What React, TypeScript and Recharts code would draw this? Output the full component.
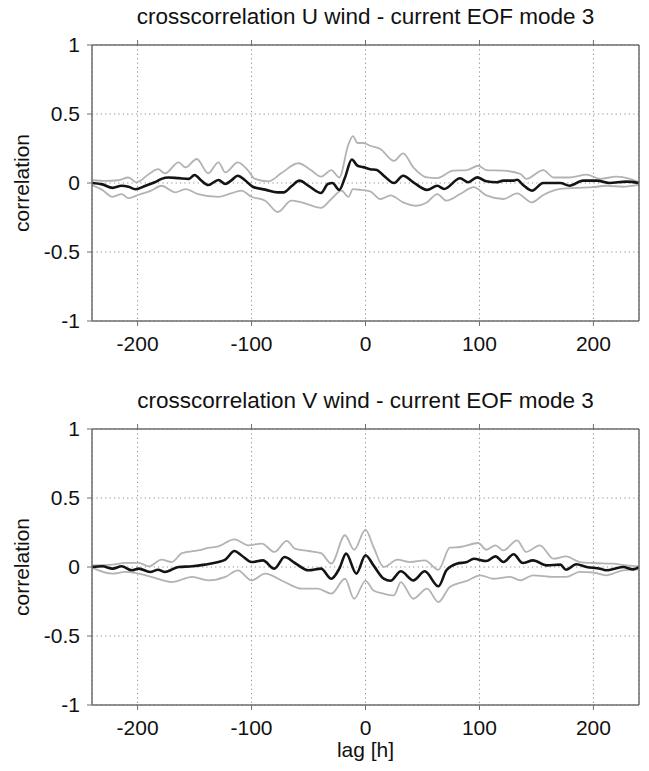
import React from "react";
import { LineChart, Line, XAxis, YAxis, CartesianGrid } from "recharts";

type Pt = [number, number];

const xTicks = [-200, -100, 0, 100, 200];
const yTicks = [-1, -0.5, 0, 0.5, 1];

const uTitle = "crosscorrelation U wind - current EOF mode 3";
const vTitle = "crosscorrelation V wind - current EOF mode 3";

const uCorr: Pt[] = [[-240,0],[-231,-0.01],[-222,-0.035],[-214,-0.02],[-208,-0.027],[-202,-0.045],[-193,-0.02],[-185,0.005],[-179,0.03],[-173,0.04],[-164,0.035],[-155,0.03],[-150,0.058],[-144,0.017],[-138,-0.015],[-129,0.022],[-123,-0.007],[-118,0.017],[-112,0.053],[-106,0.022],[-99,-0.027],[-88,-0.048],[-77,-0.068],[-72,-0.068],[-65,-0.024],[-58,0.017],[-50,-0.02],[-39,-0.072],[-33,-0.007],[-29,0],[-23,-0.05],[-18,0.04],[-12,0.17],[-7,0.125],[-2,0.115],[4,0.10],[10,0.094],[16,0.053],[25,0],[33,0.053],[42,0.005],[54,-0.05],[63,-0.02],[69,-0.043],[83,0.034],[90,0.005],[98,0.041],[106,0.012],[115,0.005],[121,0.017],[130,0.017],[133,0.024],[138,-0.012],[146,-0.055],[156,0],[171,0],[179,-0.02],[191,0.017],[203,0.017],[214,0],[229,0.01],[240,0]];

const uUpper: Pt[] = [[-240,0.02],[-228,0.015],[-217,0.02],[-208,0.04],[-201,0.005],[-190,0.065],[-182,0.1],[-176,0.07],[-164,0.15],[-158,0.113],[-148,0.174],[-138,0.07],[-129,0.15],[-123,0.077],[-112,0.15],[-103,0.09],[-97,0.03],[-85,0.012],[-74,0.07],[-59,0.143],[-48,0.094],[-39,0.046],[-30,0.094],[-23,0.04],[-15,0.28],[-11,0.34],[-7,0.29],[-2,0.29],[4,0.27],[13,0.246],[25,0.16],[33,0.215],[42,0.113],[54,0.04],[63,0.036],[77,0.09],[89,0.094],[99,0.125],[106,0.094],[121,0.09],[136,0.065],[141,0.03],[156,0.094],[165,0.04],[179,0.04],[194,0.06],[206,0.03],[220,0.046],[232,0.03],[240,0.005]];

const uLower: Pt[] = [[-240,-0.015],[-231,-0.05],[-222,-0.1],[-214,-0.08],[-208,-0.11],[-199,-0.085],[-188,-0.055],[-179,-0.02],[-167,-0.068],[-158,-0.045],[-147,-0.08],[-129,-0.1],[-118,-0.075],[-109,-0.055],[-100,-0.1],[-88,-0.128],[-77,-0.21],[-65,-0.128],[-56,-0.14],[-39,-0.18],[-30,-0.116],[-21,-0.055],[-15,-0.1],[-11,-0.045],[-4,-0.05],[4,-0.06],[13,-0.116],[22,-0.09],[33,-0.14],[45,-0.165],[54,-0.14],[63,-0.08],[71,-0.128],[83,-0.08],[95,-0.03],[106,-0.09],[121,-0.116],[133,-0.075],[146,-0.14],[156,-0.087],[171,-0.043],[185,-0.036],[200,-0.03],[211,-0.02],[226,-0.027],[240,-0.012]];

const vCorr: Pt[] = [[-240,0],[-231,0.005],[-222,-0.012],[-214,0.005],[-205,-0.024],[-199,-0.012],[-189,-0.036],[-182,-0.02],[-176,-0.036],[-164,0],[-152,0.005],[-141,0.017],[-129,0.036],[-123,0.053],[-115,0.116],[-109,0.085],[-100,0.036],[-90,0.048],[-80,-0.012],[-71,0.072],[-62,0.029],[-50,-0.024],[-39,-0.012],[-30,-0.085],[-23,-0.012],[-17,0.097],[-8,-0.048],[0,0.085],[7,0.012],[16,-0.085],[22,-0.1],[31,-0.031],[42,-0.097],[52,-0.031],[64,-0.14],[71,-0.024],[80,0.024],[89,0.036],[95,0.06],[106,0.043],[114,0.077],[121,0.036],[130,0.092],[138,0.029],[147,0.048],[159,0.012],[171,0.017],[176,-0.02],[185,0.02],[194,0],[206,-0.012],[211,-0.024],[226,0],[235,-0.017],[240,0]];

const vUpper: Pt[] = [[-240,0.012],[-222,0.017],[-211,0.03],[-199,0.03],[-190,0.005],[-179,0.053],[-170,0.036],[-161,0.1],[-147,0.12],[-138,0.138],[-129,0.15],[-115,0.2],[-103,0.157],[-91,0.17],[-80,0.109],[-69,0.19],[-62,0.133],[-50,0.116],[-39,0.1],[-30,0.024],[-18,0.23],[-10,0.125],[0,0.27],[7,0.145],[16,0],[28,0.053],[39,0.036],[52,0.048],[64,-0.02],[74,0.14],[83,0.145],[99,0.174],[106,0.125],[114,0.157],[121,0.12],[133,0.193],[141,0.109],[153,0.157],[165,0.06],[176,0.077],[188,0.036],[200,0.029],[217,0.024],[229,0.012],[240,0.005]];

const vLower: Pt[] = [[-240,-0.005],[-222,-0.048],[-211,-0.036],[-199,-0.048],[-188,-0.072],[-170,-0.109],[-152,-0.072],[-138,-0.097],[-123,-0.072],[-112,-0.024],[-100,-0.097],[-88,-0.048],[-71,-0.109],[-56,-0.157],[-42,-0.157],[-30,-0.193],[-18,-0.085],[-10,-0.23],[0,-0.1],[7,-0.17],[16,-0.193],[25,-0.205],[31,-0.109],[42,-0.23],[54,-0.157],[64,-0.254],[74,-0.145],[89,-0.1],[101,-0.06],[112,-0.085],[127,-0.072],[136,-0.097],[147,-0.06],[165,-0.072],[176,-0.072],[188,-0.036],[200,-0.04],[211,-0.06],[226,-0.024],[240,-0.017]];

const FONT = "'Liberation Sans', Arial, Helvetica, sans-serif";
const AXIS = "#6e6e6e";

const toRows = (pts: Pt[]) => pts.map(([lag, v]) => ({ lag, v }));

const PLOT_LEFT = 92;
const PLOT_W = 547;
const PLOT_H = 276;
const M_TOP = 45;
const CH_H = 370;

function Panel({ top, title, corr, upper, lower }: { top: number; title: string; corr: Pt[]; upper: Pt[]; lower: Pt[] }) {
  const tickStyle = { fontSize: 21, fill: "#111", fontFamily: FONT };
  return (
    <div style={{ position: "absolute", left: 0, top: top - M_TOP, width: 649, height: CH_H }}>
      <div style={{ position: "absolute", left: PLOT_LEFT - 40, width: PLOT_W + 80, top: M_TOP - 41, textAlign: "center", fontFamily: FONT, fontSize: 22.5, lineHeight: "26px", color: "#111", whiteSpace: "nowrap" }}>
        {title}
      </div>
      <div style={{ position: "absolute", left: 22 - 60, top: M_TOP + PLOT_H / 2 - 12, width: 120, textAlign: "center", fontFamily: FONT, fontSize: 21, lineHeight: "24px", color: "#111", transform: "rotate(-90deg)" }}>
        correlation
      </div>
      <LineChart width={649} height={CH_H} margin={{ top: M_TOP - 1, right: 9, bottom: 0, left: 0 }}>
        <CartesianGrid stroke="#8f8f8f" strokeDasharray="1.2 3.2" strokeWidth={1} />
        <XAxis dataKey="lag" type="number" domain={[-240, 240]} ticks={xTicks} allowDataOverflow height={CH_H - M_TOP - PLOT_H} tick={tickStyle} tickLine={{ stroke: AXIS }} axisLine={{ stroke: AXIS, strokeWidth: 1.5 }} tickSize={5} tickMargin={10} interval={0} />
        <XAxis xAxisId="top" orientation="top" dataKey="lag" type="number" domain={[-240, 240]} ticks={xTicks} allowDataOverflow height={1} tick={{ fontSize: 1, fill: "none" }} tickFormatter={() => ""} tickLine={{ stroke: AXIS }} axisLine={{ stroke: AXIS, strokeWidth: 1.5 }} tickSize={5} interval={0} />
        <YAxis type="number" domain={[-1, 1]} ticks={yTicks} width={PLOT_LEFT} tick={tickStyle} tickLine={{ stroke: AXIS }} axisLine={{ stroke: AXIS, strokeWidth: 1.5 }} tickSize={5} tickMargin={7} interval={0} />
        <YAxis yAxisId="right" orientation="right" type="number" domain={[-1, 1]} ticks={yTicks} width={1} tick={{ fontSize: 1, fill: "none" }} tickFormatter={() => ""} tickLine={{ stroke: AXIS }} axisLine={{ stroke: AXIS, strokeWidth: 1.5 }} tickSize={5} interval={0} />
        <Line data={toRows(upper)} dataKey="v" type="monotone" stroke="#b3b3b3" strokeWidth={1.8} dot={false} isAnimationActive={false} />
        <Line data={toRows(lower)} dataKey="v" type="monotone" stroke="#b3b3b3" strokeWidth={1.8} dot={false} isAnimationActive={false} />
        <Line data={toRows(corr)} dataKey="v" type="monotone" stroke="#141414" strokeWidth={2.6} dot={false} isAnimationActive={false} />
      </LineChart>
    </div>
  );
}

export default function App() {
  return (
    <div style={{ position: "absolute", left: 0, top: 0, width: 649, height: 771, background: "#fff" }}>
      <Panel top={45} title={uTitle} corr={uCorr} upper={uUpper} lower={uLower} />
      <Panel top={429} title={vTitle} corr={vCorr} upper={vUpper} lower={vLower} />
      <div style={{ position: "absolute", left: PLOT_LEFT, width: PLOT_W, top: 738, textAlign: "center", fontFamily: FONT, fontSize: 21, lineHeight: "24px", color: "#111" }}>
        lag [h]
      </div>
    </div>
  );
}
